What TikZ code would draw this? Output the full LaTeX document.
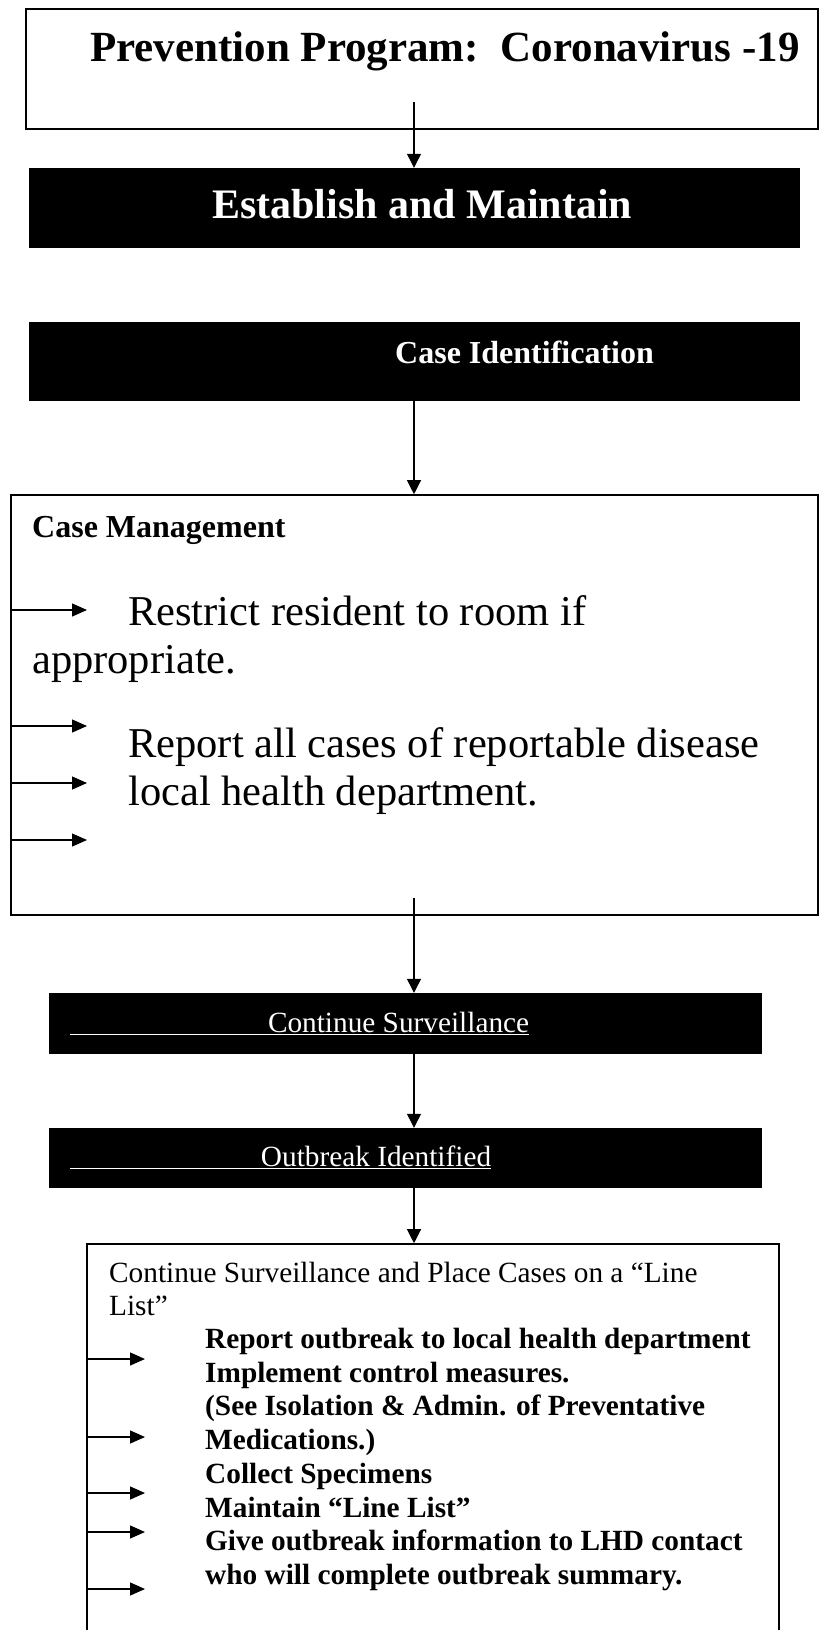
\documentclass[tikz,border=0pt]{standalone}
\usepackage{fontspec}
\setmainfont{Liberation Serif}
\usetikzlibrary{arrows.meta}
\newcommand{\fsz}[1]{\fontsize{#1}{#1}\selectfont}

\begin{document}
\begin{tikzpicture}[x=1pt,y=-1pt,
    frame/.style={draw,line width=1.6pt,inner sep=0pt},
    blackbar/.style={fill=black,draw=black,inner sep=0pt},
    txt/.style={anchor=base west,inner sep=0pt},
    arr/.style={line width=1.2pt,-{Triangle[length=14pt,width=14pt]}},
    tab/.style={line width=1.3pt,-{Triangle[length=15pt,width=13pt]}}]

    \useasboundingbox (0,0) rectangle (819,1630);
    \clip (0,0) rectangle (819,1630);

    % boxes
    \node[frame,minimum width=792pt,minimum height=120pt] (prog) at (422,69) {};
    \node[blackbar,minimum width=770pt,minimum height=79pt] (estab) at (414,207.5) {};
    \node[blackbar,minimum width=770pt,minimum height=78pt] (caseid) at (414,361) {};
    \node[frame,minimum width=807pt,minimum height=420pt] (cm) at (414.5,705) {};
    \node[blackbar,minimum width=712pt,minimum height=60pt] (surv) at (405,1023) {};
    \node[blackbar,minimum width=712pt,minimum height=59pt] (outb) at (405,1157.5) {};
    \node[frame,minimum width=692pt,minimum height=520pt] (list) at (433,1504) {};

    % texts
    \node[txt] (progt) at (90,61) {\fsz{43}\bfseries Prevention Program:\ \ Coronavirus -19};
    \node[txt,text=white] (estabt) at (212,218) {\fsz{42}\bfseries Establish and Maintain};
    \node[txt,text=white] (caseidt) at (395,363) {\fsz{32}\bfseries Case Identification};
    \node[txt] (cmt) at (32,537) {\fsz{32}\bfseries Case Management};
    \node[txt] (cm1) at (128,625) {\fsz{42.5}Restrict resident to room if};
    \node[txt] (cm2) at (32,673) {\fsz{42.5}appropriate.};
    \node[txt] (cm3) at (128,757) {\fsz{42.5}Report all cases of reportable disease};
    \node[txt] (cm4) at (128,805) {\fsz{42.5}local health department.};
    \node[txt,text=white] (survt) at (70,1032) {\fsz{29.3}\underline{\makebox[459pt][r]{Continue Surveillance}}};
    \node[txt,text=white] (outbt) at (70,1166) {\fsz{29.3}\underline{\makebox[421pt][r]{Outbreak Identified}}};
    \node[txt] (l1) at (109,1282) {\fsz{29.3}Continue Surveillance and Place Cases on a “Line};
    \node[txt] (l2) at (109,1315) {\fsz{29.3}List”};
    \node[txt] (l3) at (205,1348) {\fsz{29.3}\bfseries Report outbreak to local health department};
    \node[txt] (l4) at (205,1382) {\fsz{29.3}\bfseries Implement control measures.};
    \node[txt] (l5) at (205,1415) {\fsz{29.3}\bfseries (See Isolation \& Admin. of Preventative};
    \node[txt] (l6) at (205,1449) {\fsz{29.3}\bfseries Medications.)};
    \node[txt] (l7) at (205,1483) {\fsz{29.3}\bfseries Collect Specimens};
    \node[txt] (l8) at (205,1517) {\fsz{29.3}\bfseries Maintain “Line List”};
    \node[txt] (l9) at (205,1550) {\fsz{29.3}\bfseries Give outbreak information to LHD contact};
    \node[txt] (l10) at (205,1584) {\fsz{29.3}\bfseries who will complete outbreak summary.};

    % connectors
    \coordinate (c0) at (414,102);
    \coordinate (c2) at (414,898);
    \draw[arr] (c0) -- (estab.north);
    \draw[arr] (caseid.south) -- (caseid.south |- cm.north);
    \draw[arr] (c2) -- (c2 |- surv.north);
    \draw[arr] (c2 |- surv.south) -- (c2 |- outb.north);
    \draw[arr] (c2 |- outb.south) -- (c2 |- list.north);

    % list arrows
    \coordinate (a1) at (87,610);
    \coordinate (a2) at (87,726);
    \coordinate (a3) at (87,783);
    \coordinate (a4) at (87,840);
    \draw[tab] (a1 -| cm.west) -- (a1);
    \draw[tab] (a2 -| cm.west) -- (a2);
    \draw[tab] (a3 -| cm.west) -- (a3);
    \draw[tab] (a4 -| cm.west) -- (a4);
    \coordinate (b1) at (145,1359);
    \coordinate (b2) at (145,1437);
    \coordinate (b3) at (145,1493);
    \coordinate (b4) at (145,1532);
    \coordinate (b5) at (145,1589);
    \draw[tab] (b1 -| list.west) -- (b1);
    \draw[tab] (b2 -| list.west) -- (b2);
    \draw[tab] (b3 -| list.west) -- (b3);
    \draw[tab] (b4 -| list.west) -- (b4);
    \draw[tab] (b5 -| list.west) -- (b5);

\end{tikzpicture}
\end{document}
